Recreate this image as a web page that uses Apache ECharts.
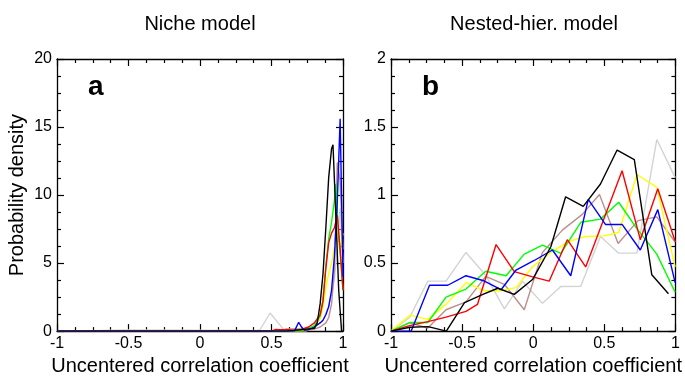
<!DOCTYPE html>
<html>
<head>
<meta charset="utf-8">
<title>Correlation coefficient densities</title>
<script src="https://cdn.jsdelivr.net/npm/echarts@6/dist/echarts.min.js"></script>
<style>
  html, body { margin: 0; padding: 0; background: #fff; }
  #chart { width: 685px; height: 381px; }
</style>
</head>
<body>
<div id="chart"></div>
<script>
// Panel titles and axis text
const panelTitles = ['Niche model', 'Nested-hier. model'];
const panelLetters = ['a', 'b'];
const xName = 'Uncentered correlation coefficient';
const yName = 'Probability density';

// Axis ranges and tick steps
const xRange = [-1, 1];
const xStep = 0.5;
const yRangeA = [0, 20];
const yStepA = 5;
const yRangeB = [0, 2];
const yStepB = 0.5;

// Series colours (same order in both panels)
const seriesNames = ['gray', 'brown', 'yellow', 'green', 'red', 'blue', 'black'];
const seriesColors = ['#d3d3d3', '#bc8f8f', '#ffff00', '#00ff00', '#ff0000', '#0000ff', '#000000'];

// Panel a: niche model densities, [coefficient, density]
const nicheGray = [[-1,0],[-0.5,0.08],[0.4,0.05],[0.42,0.1],[0.49,1.33],[0.59,0.05],[0.7,0.1],[0.8,0.3],[0.86,0.8],[0.9,1.8],[0.92,2.7],[0.94,3.8],[0.96,6],[0.98,9],[1,5]];
const nicheBrown = [[-1,0],[0.55,0],[0.6,0.15],[0.7,0.15],[0.75,0.05],[0.8,0.15],[0.84,0.3],[0.88,0.6],[0.9,1],[0.92,2],[0.94,4.5],[0.96,12.4],[0.98,11],[1,6]];
const nicheYellow = [[-1,0],[0.74,0],[0.8,0.3],[0.84,0.9],[0.86,1.8],[0.88,3.2],[0.9,4.2],[0.92,5],[0.94,6.2],[0.96,7.4],[0.98,6],[1,7.2]];
const nicheGreen = [[-1,0],[0.7,0],[0.76,0.2],[0.8,0.4],[0.84,1.1],[0.86,2.3],[0.88,4.8],[0.9,6.8],[0.92,8],[0.94,9.6],[0.95,10.8],[0.97,7],[0.99,4.5],[1,3]];
const nicheRed = [[-1,0],[0.5,0],[0.53,0.12],[0.56,0.1],[0.62,0.1],[0.66,0.05],[0.7,0.1],[0.76,0.3],[0.8,0.6],[0.84,1.2],[0.86,2.2],[0.88,4.6],[0.9,6.5],[0.92,7.2],[0.94,7.6],[0.96,8.5],[0.98,6],[1,3]];
const nicheBlue = [[-1,0],[0.66,0],[0.69,0.65],[0.71,0.3],[0.73,0.05],[0.76,0.1],[0.8,0.3],[0.84,0.6],[0.86,0.8],[0.88,1.2],[0.9,1.8],[0.92,3],[0.94,5.5],[0.96,9.5],[0.98,15.6],[1,4]];
const nicheBlack = [[-1,0],[0.6,0],[0.8,0.2],[0.82,0.6],[0.84,2],[0.86,4.2],[0.88,7.6],[0.9,11.3],[0.92,13.4],[0.93,13.7],[0.95,8.5],[0.97,3],[0.99,0],[1,0]];

// Panel b: nested-hierarchy model densities, [coefficient, density]
const nestedGray = [[-1,0],[-0.869,0.1],[-0.741,0.367],[-0.613,0.367],[-0.473,0.578],[-0.334,0.41],[-0.203,0.164],[-0.075,0.367],[0.065,0.204],[0.194,0.328],[0.334,0.33],[0.473,0.695],[0.601,0.573],[0.729,0.573],[0.869,1.408],[0.998,1.128]];
const nestedBrown = [[-1,0],[-0.869,0.06],[-0.741,0.023],[-0.613,0.157],[-0.473,0.215],[-0.334,0.402],[-0.203,0.344],[-0.063,0.157],[0.065,0.578],[0.205,0.742],[0.345,0.858],[0.466,1.004],[0.597,0.644],[0.737,0.812],[0.869,0.84],[0.998,0.655]];
const nestedYellow = [[-1,0],[-0.867,0.117],[-0.739,0.086],[-0.611,0.2],[-0.471,0.356],[-0.343,0.297],[-0.226,0.297],[-0.121,0.32],[-0.005,0.473],[0.124,0.578],[0.252,0.66],[0.368,0.695],[0.497,0.7],[0.601,0.725],[0.73,1.151],[0.869,1.057],[0.998,0.472]];
const nestedGreen = [[-1,0],[-0.869,0.063],[-0.741,0.063],[-0.613,0.25],[-0.473,0.309],[-0.334,0.44],[-0.191,0.407],[-0.063,0.566],[0.065,0.632],[0.194,0.571],[0.335,0.8],[0.473,0.823],[0.601,0.947],[0.729,0.753],[0.869,0.566],[0.998,0.286]];
const nestedRed = [[-1,0],[-0.869,0.04],[-0.741,0.07],[-0.613,0.103],[-0.473,0.145],[-0.392,0.196],[-0.261,0.636],[-0.133,0.437],[-0.01,0.4],[0.112,0.367],[0.24,0.672],[0.369,0.472],[0.625,1.179],[0.753,0.672],[0.876,1.046],[0.998,0.66]];
const nestedBlue = [[-1,0],[-0.858,0],[-0.729,0.337],[-0.601,0.337],[-0.473,0.407],[-0.354,0.372],[-0.226,0.304],[-0.121,0.449],[0.007,0.519],[0.135,0.596],[0.264,0.407],[0.387,0.968],[0.508,0.784],[0.625,0.784],[0.753,0.596],[0.876,0.893],[0.998,0.356]];
const nestedBlack = [[-1,0],[-0.867,0.028],[-0.739,0.033],[-0.611,0],[-0.483,0.21],[-0.354,0.27],[-0.249,0.315],[-0.133,0.27],[-0.005,0.379],[0.124,0.62],[0.228,0.987],[0.352,0.917],[0.473,1.081],[0.59,1.331],[0.711,1.261],[0.834,0.414],[0.951,0.274]];

const nicheSets = [nicheGray, nicheBrown, nicheYellow, nicheGreen, nicheRed, nicheBlue, nicheBlack];
const nestedSets = [nestedGray, nestedBrown, nestedYellow, nestedGreen, nestedRed, nestedBlue, nestedBlack];

const FONT = '"Liberation Sans", Arial, Helvetica, sans-serif';
const INK = '#000';

const grids = [
  { left: 57, top: 59, width: 286, height: 285 },
  { left: 391, top: 59, width: 286, height: 285 }
];

function frameAxis(kind, gridIndex, position, range, step, withLabels, name, nameGap) {
  const ax = {
    type: 'value',
    gridIndex: gridIndex,
    position: position,
    min: range[0],
    max: range[1],
    interval: step,
    axisLine: { show: true, onZero: false, lineStyle: { color: INK, width: 1.3 } },
    axisTick: { show: true, inside: true, length: 7, lineStyle: { color: INK, width: 1.2 } },
    minorTick: { show: true, splitNumber: 4, length: 4, lineStyle: { color: INK, width: 1.2 } },
    splitLine: { show: false },
    minorSplitLine: { show: false },
    axisLabel: {
      show: withLabels,
      color: INK,
      fontSize: 16,
      fontFamily: FONT,
      margin: kind === 'x' ? 4 : 5,
      showMinLabel: true,
      showMaxLabel: true
    }
  };
  if (name) {
    ax.name = name;
    ax.nameLocation = 'middle';
    ax.nameGap = nameGap;
    ax.nameTextStyle = { color: INK, fontSize: 20, fontFamily: FONT };
  }
  return ax;
}

const xAxes = [
  frameAxis('x', 0, 'bottom', xRange, xStep, true, xName, 18),
  frameAxis('x', 0, 'top', xRange, xStep, false),
  frameAxis('x', 1, 'bottom', xRange, xStep, true, xName, 18),
  frameAxis('x', 1, 'top', xRange, xStep, false)
];
const yAxes = [
  frameAxis('y', 0, 'left', yRangeA, yStepA, true, yName, 30),
  frameAxis('y', 0, 'right', yRangeA, yStepA, false),
  frameAxis('y', 1, 'left', yRangeB, yStepB, true),
  frameAxis('y', 1, 'right', yRangeB, yStepB, false)
];

const series = [];
[nicheSets, nestedSets].forEach(function (sets, p) {
  sets.forEach(function (data, i) {
    series.push({
      name: seriesNames[i] + '-' + panelLetters[p],
      type: 'line',
      xAxisIndex: p * 2,
      yAxisIndex: p * 2,
      data: data,
      showSymbol: false,
      symbol: 'none',
      clip: true,
      lineStyle: { color: seriesColors[i], width: 1.4 },
      z: 2 + i
    });
  });
});

const graphics = [];
grids.forEach(function (g, p) {
  graphics.push({
    type: 'text',
    x: g.left + g.width / 2,
    y: 24,
    style: {
      text: panelTitles[p],
      fill: INK,
      font: '20px ' + FONT,
      textAlign: 'center',
      textVerticalAlign: 'middle'
    }
  });
  graphics.push({
    type: 'text',
    x: g.left + 31,
    y: 101,
    style: {
      text: panelLetters[p],
      fill: INK,
      font: 'bold 28px ' + FONT,
      textAlign: 'left',
      textVerticalAlign: 'bottom'
    }
  });
});

const chart = echarts.init(document.getElementById('chart'), null, { renderer: 'canvas' });
chart.setOption({
  animation: false,
  backgroundColor: '#fff',
  grid: grids,
  xAxis: xAxes,
  yAxis: yAxes,
  series: series,
  graphic: graphics
});
</script>
</body>
</html>
